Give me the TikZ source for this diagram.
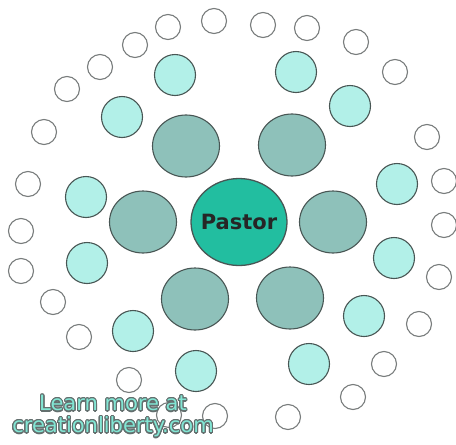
\documentclass[tikz,border=0pt]{standalone}
\usepackage{fontspec}
\setmainfont{DejaVu Sans}
\usepackage[copies]{contour}
\usetikzlibrary{shapes.geometric}
\definecolor{rim}{RGB}{72, 86, 84}
\definecolor{seatrim}{RGB}{120, 124, 124}
\definecolor{pastorfill}{RGB}{34, 190, 160}
\definecolor{elderfill}{RGB}{142, 193, 186}
\definecolor{memberfill}{RGB}{178, 240, 232}
\definecolor{linkfill}{RGB}{130, 230, 212}
\contourlength{1.1pt}
\contournumber{24}

\begin{document}
\begin{tikzpicture}[
      x=1pt, y=-1pt,
      pastor/.style={ellipse, draw=rim, fill=pastorfill, line width=1.3pt, minimum width=96pt, minimum height=87pt, inner sep=0pt},
      pastorname/.style={font=\bfseries\fontsize{21}{24}\selectfont, text=black!85},
      elder/.style={ellipse, draw=rim, fill=elderfill, line width=1.1pt, minimum width=67pt, minimum height=62pt},
      member/.style={circle, draw=rim, fill=memberfill, line width=1.1pt, minimum size=41pt},
      seat/.style={circle, draw=seatrim, fill=white, line width=1.1pt, minimum size=25pt},
      linktext/.style={align=center, text=linkfill, font=\fontsize{21}{22}\selectfont}
    ]
      \useasboundingbox (0,0) rectangle (456,445);

      % Nodes
      \node[pastor, label={[pastorname]center:Pastor}] (pastor) at (239,222) {};

      \node[elder] (e1) at (186,146) {};
      \node[elder] (e2) at (292,145) {};
      \node[elder] (e3) at (143,222) {};
      \node[elder] (e4) at (333,222) {};
      \node[elder] (e5) at (195,299) {};
      \node[elder] (e6) at (290,298) {};

      \foreach \x/\y [count=\i] in {175/75, 122/117, 86/197, 87/263, 133/331, 196/371,
                                    296/72, 350/106, 397/184, 394/258, 364/316, 309/364}
        \node[member] (m\i) at (\x,\y) {};

      \foreach \x/\y [count=\i] in {214/21, 168/27, 135/45, 100/67, 67/89, 44/132, 28/184,
                                    21/231, 21/271, 53/302, 79/337, 129/380, 169/415, 215/416,
                                    263/25, 307/28, 356/42, 395/72, 427/137, 444/181,
                                    444/225, 439/277, 419/324, 384/364, 353/397, 288/417}
        \node[seat] (s\i) at (\x,\y) {};

      % Link text
      \node[linktext] (link) at (113,417) {\contour{rim!85}{Learn more at}\\\contour{rim!85}{creationliberty.com}};
    \end{tikzpicture}
\end{document}
